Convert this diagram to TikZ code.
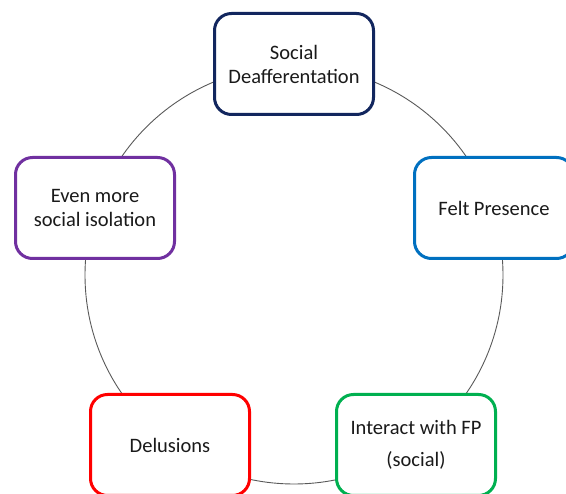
\documentclass[tikz,border=0pt]{standalone}
\usepackage{fontspec}
\setmainfont{Carlito}
\definecolor{cnavy}{HTML}{12265E}
\definecolor{cblue}{HTML}{0070C0}
\definecolor{cgreen}{HTML}{00B050}
\definecolor{cred}{HTML}{FF0000}
\definecolor{cpurple}{HTML}{7030A0}
\definecolor{ctext}{HTML}{1A1A1A}
\tikzset{
  stage/.style={draw, line width=3pt, rounded corners=17pt, fill=white,
    minimum width=159pt, minimum height=101pt, align=center,
    text=ctext, font=\fontsize{20.5}{24}\selectfont, inner sep=0pt},
  ring/.style={draw=black!65, line width=0.9pt}
}
\begin{document}
\begin{tikzpicture}[x=1pt,y=-1pt]
\useasboundingbox (0,0) rectangle (566,494);
\coordinate (c) at (294,275);
\draw[ring] (c) circle[radius=209pt];
\node[stage, draw=cnavy] (soc) at (294,64) {Social\\Deafferentation};
\node[stage, draw=cblue] (felt) at (494,208) {Felt Presence};
\node[stage, draw=cgreen] (inter) at (416,445) {Interact with FP\\[8pt](social)};
\node[stage, draw=cred] (del) at (170,445) {Delusions};
\node[stage, draw=cpurple] (even) at (95,208) {Even more\\social isolation};
\end{tikzpicture}
\end{document}
